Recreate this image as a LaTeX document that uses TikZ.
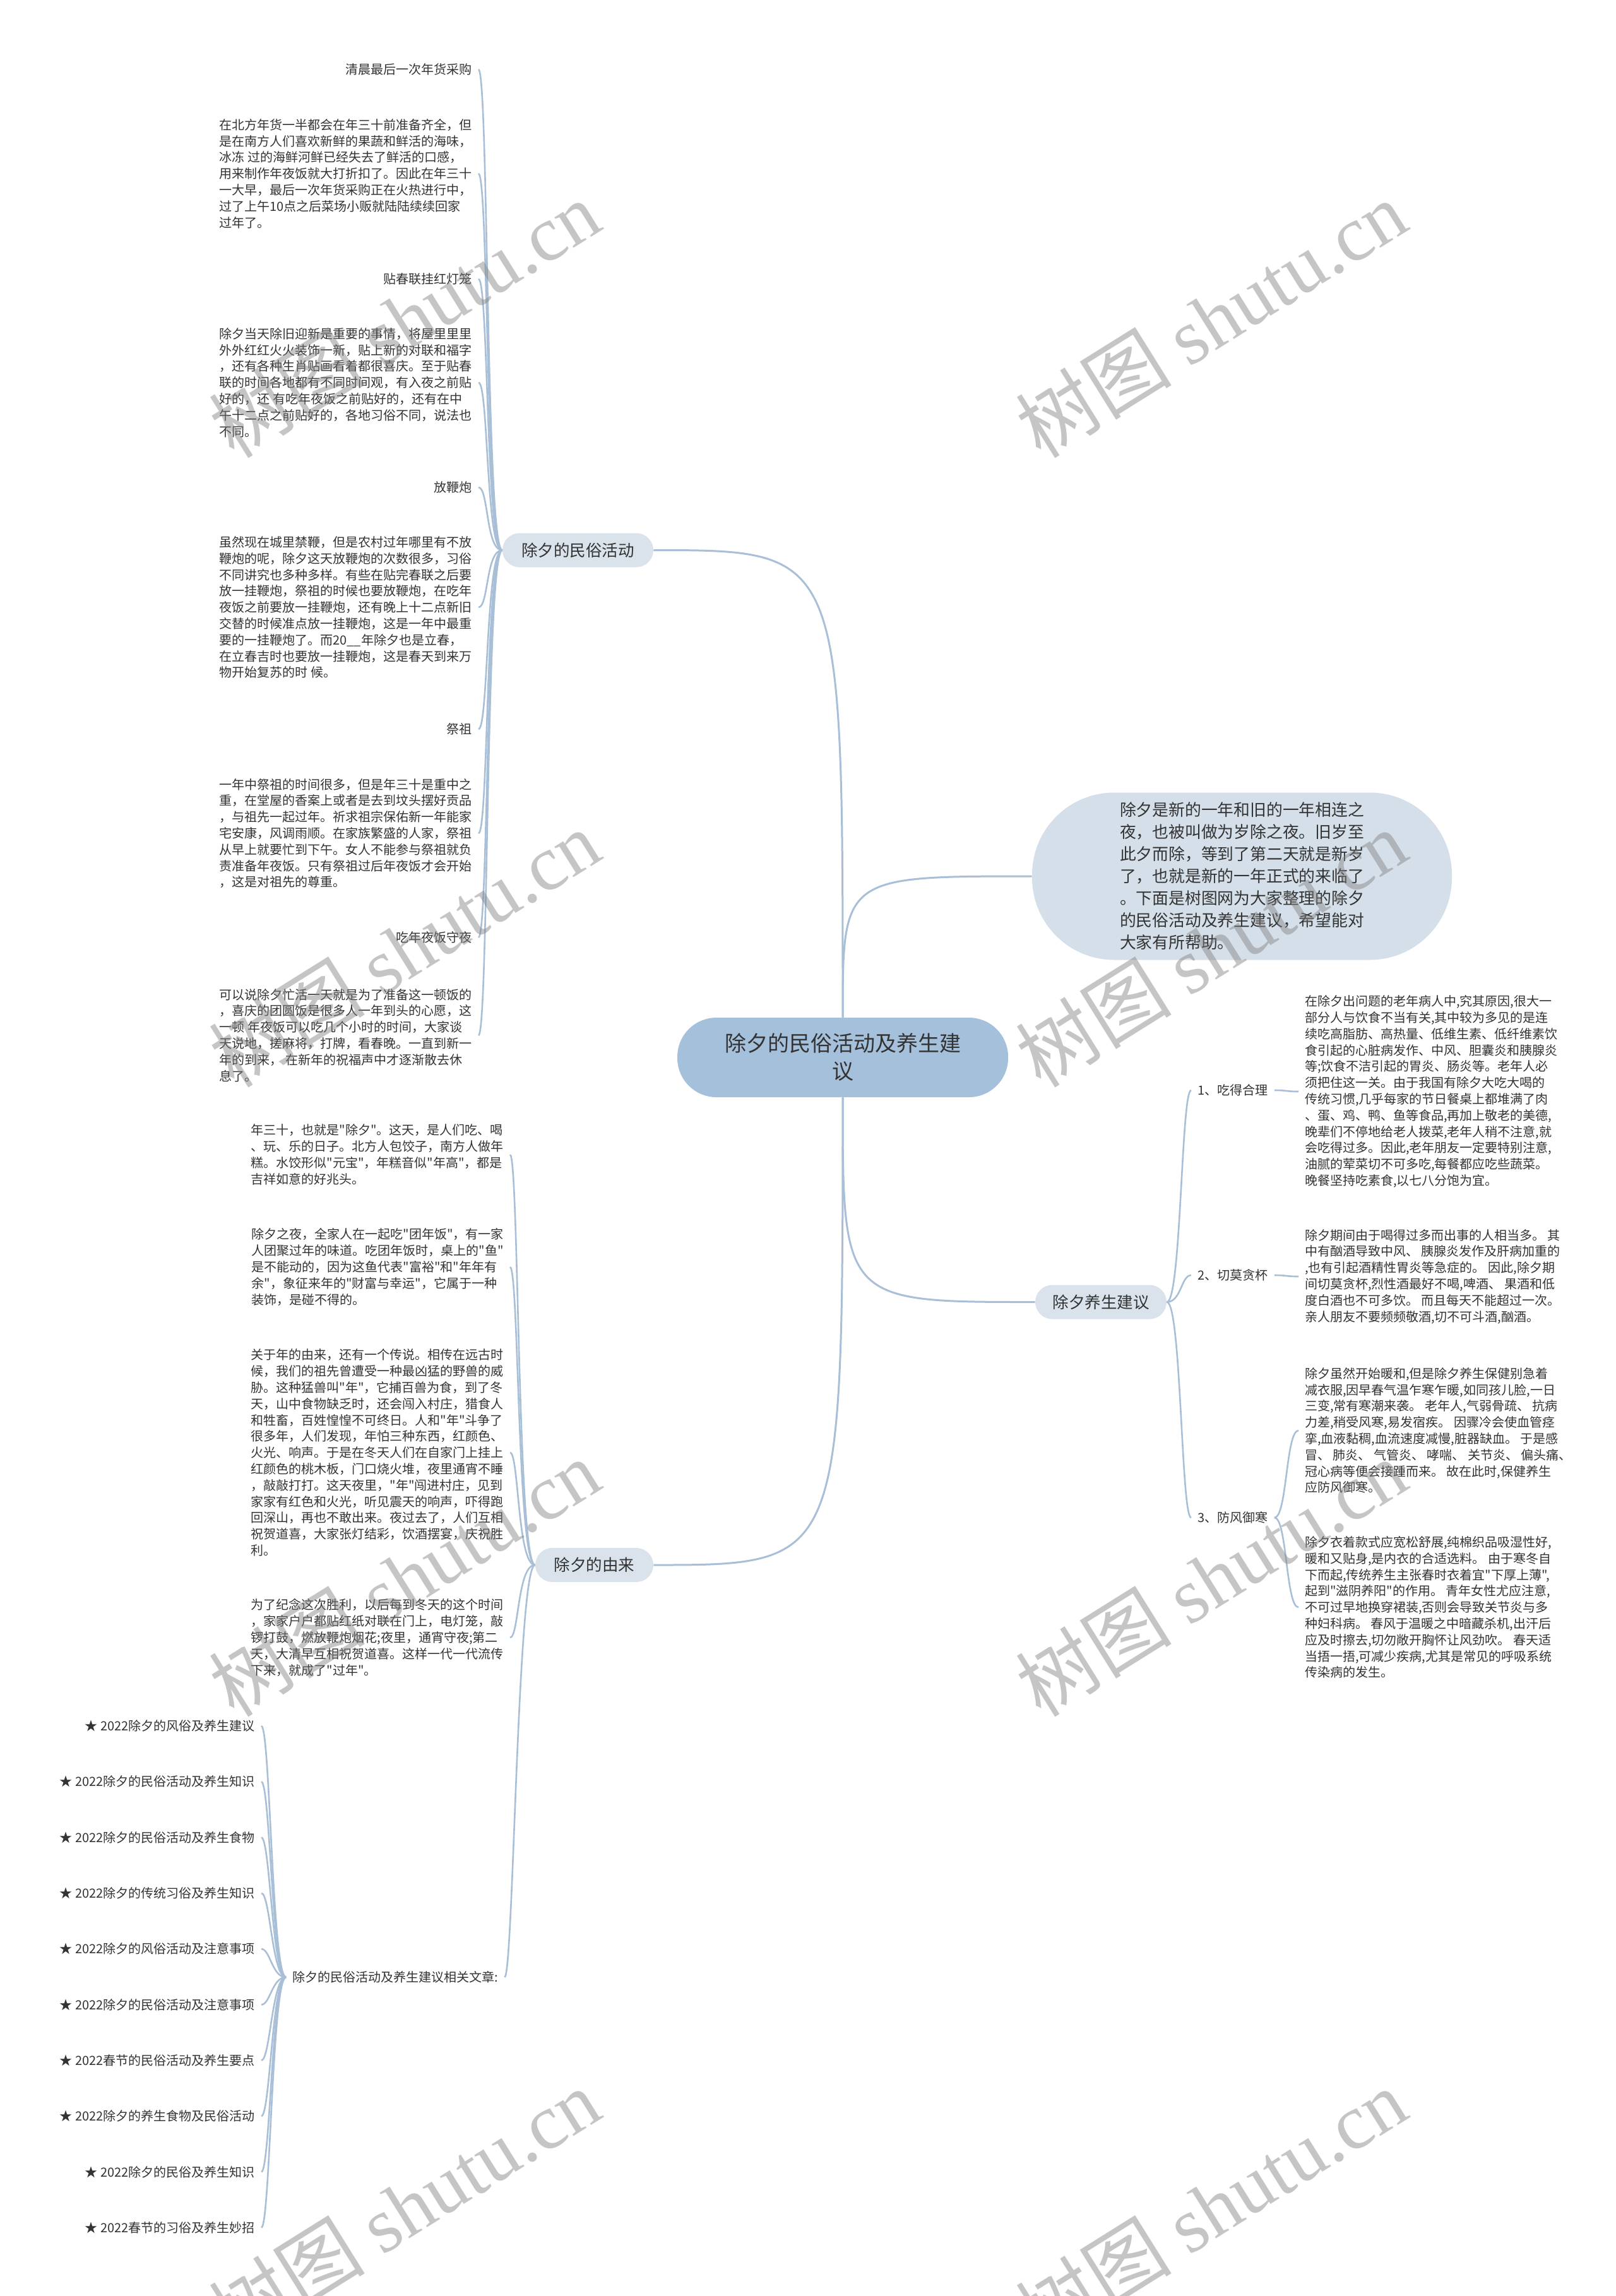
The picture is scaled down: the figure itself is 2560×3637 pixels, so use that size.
\documentclass[tikz,border=0pt]{standalone}
\usepackage{fontspec}
\setmainfont{Noto Sans CJK SC}[Ligatures=TeXOff]
\newfontfamily\wmlatin{Liberation Serif}
\newfontfamily\wmcjk{Noto Sans CJK SC}
\definecolor{linec}{HTML}{A8BFD7}
\definecolor{rootfill}{HTML}{A5C0DB}
\definecolor{secfill}{HTML}{DAE3EC}
\definecolor{bubblefill}{HTML}{D4DFE9}
\definecolor{txt}{HTML}{333333}
\definecolor{wmc}{HTML}{808080}
\tikzset{
  leaf/.style={font=\fontsize{10pt}{12.9pt}\selectfont, text=txt, inner xsep=5pt, inner ysep=2pt, align=left},
  secnode/.style={fill=secfill, rounded corners=13.5pt, minimum height=27pt, inner xsep=0pt, font=\fontsize{12.75pt}{15pt}\selectfont, text=txt},
  rootnode/.style={fill=rootfill, rounded corners=31pt, minimum width=262pt, minimum height=63pt, align=center, font=\fontsize{17pt}{22pt}\selectfont, text=txt},
  bubble/.style={fill=bubblefill, rounded corners=65pt, minimum width=332.5pt, minimum height=132.5pt, align=left, font=\fontsize{12.9pt}{17.5pt}\selectfont, text=txt},
  conn/.style={draw=linec, line width=1.3pt},
  mainconn/.style={draw=linec, line width=1.5pt},
  wmark/.style={text=wmc, text opacity=0.45, rotate=32, inner sep=0pt}
}
\begin{document}
\begin{tikzpicture}[x=0.5pt,y=-0.5pt]
\useasboundingbox (0,0) rectangle (2560,3637);
\fill[white] (0,0) rectangle (2560,3637);

% root and main branches
\node[rootnode] (root) at (1335,1675) {除夕的民俗活动及养生建\\议};
\node[secnode, minimum width=119.5pt] (s1) at (915.5,871.5) {除夕的民俗活动};
\node[secnode, minimum width=93.5pt] (s2) at (941.5,2479) {除夕的由来};
\node[secnode, minimum width=104pt] (s3) at (1744,2062.5) {除夕养生建议};
\node[bubble] (intro) at (1967.5,1388) {除夕是新的一年和旧的一年相连之\\夜，也被叫做为岁除之夜。旧岁至\\此夕而除，等到了第二天就是新岁\\了，也就是新的一年正式的来临了\\。下面是树图网为大家整理的除夕\\的民俗活动及养生建议，希望能对\\大家有所帮助。};

\draw[mainconn] (root.north) .. controls (root.north |- s1.east) .. (s1.east);
\draw[mainconn] (root.north) .. controls (root.north |- intro.west) .. (intro.west);
\draw[mainconn] (root.south) .. controls (root.south |- s2.east) .. (s2.east);
\draw[mainconn] (root.south) .. controls (root.south |- s3.west) .. (s3.west);

% branch 1: 民俗活动
\node[leaf, anchor=east] (a1) at (758,110) {清晨最后一次年货采购};
\node[leaf, anchor=east] (a2) at (758,275) {在北方年货一半都会在年三十前准备齐全，但\\是在南方人们喜欢新鲜的果蔬和鲜活的海味，\\冰冻 过的海鲜河鲜已经失去了鲜活的口感，\\用来制作年夜饭就大打折扣了。因此在年三十\\一大早，最后一次年货采购正在火热进行中，\\过了上午10点之后菜场小贩就陆陆续续回家\\过年了。};
\node[leaf, anchor=east] (a3) at (758,442) {贴春联挂红灯笼};
\node[leaf, anchor=east] (a4) at (758,606) {除夕当天除旧迎新是重要的事情，将屋里里里\\外外红红火火装饰一新，贴上新的对联和福字\\，还有各种生肖贴画看着都很喜庆。至于贴春\\联的时间各地都有不同时间观，有入夜之前贴\\好的，还 有吃年夜饭之前贴好的，还有在中\\午十二点之前贴好的，各地习俗不同，说法也\\不同。};
\node[leaf, anchor=east] (a5) at (758,772) {放鞭炮};
\node[leaf, anchor=east] (a6) at (758,962) {虽然现在城里禁鞭，但是农村过年哪里有不放\\鞭炮的呢，除夕这天放鞭炮的次数很多，习俗\\不同讲究也多种多样。有些在贴完春联之后要\\放一挂鞭炮，祭祖的时候也要放鞭炮，在吃年\\夜饭之前要放一挂鞭炮，还有晚上十二点新旧\\交替的时候准点放一挂鞭炮，这是一年中最重\\要的一挂鞭炮了。而20\_\_年除夕也是立春，\\在立春吉时也要放一挂鞭炮，这是春天到来万\\物开始复苏的时 候。};
\node[leaf, anchor=east] (a7) at (758,1155) {祭祖};
\node[leaf, anchor=east] (a8) at (758,1320) {一年中祭祖的时间很多，但是年三十是重中之\\重，在堂屋的香案上或者是去到坟头摆好贡品\\，与祖先一起过年。祈求祖宗保佑新一年能家\\宅安康，风调雨顺。在家族繁盛的人家，祭祖\\从早上就要忙到下午。女人不能参与祭祖就负\\责准备年夜饭。只有祭祖过后年夜饭才会开始\\，这是对祖先的尊重。};
\node[leaf, anchor=east] (a9) at (758,1485) {吃年夜饭守夜};
\node[leaf, anchor=east] (a10) at (758,1640) {可以说除夕忙活一天就是为了准备这一顿饭的\\，喜庆的团圆饭是很多人一年到头的心愿，这\\一顿 年夜饭可以吃几个小时的时间，大家谈\\天说地，搓麻将，打牌，看春晚。一直到新一\\年的到来， 在新年的祝福声中才逐渐散去休\\息了。};
\foreach \n in {a1,a2,a3,a4,a5,a6,a7,a8,a9,a10}
  \draw[conn] (s1.west) .. controls +(-26,0) and +(16,0) .. (\n.east);

% branch 2: 由来
\node[leaf, anchor=east] (b1) at (808,1829) {年三十，也就是"除夕"。这天，是人们吃、喝\\、玩、乐的日子。北方人包饺子，南方人做年\\糕。水饺形似"元宝"，年糕音似"年高"，都是\\吉祥如意的好兆头。};
\node[leaf, anchor=east] (b2) at (808,2007) {除夕之夜，全家人在一起吃"团年饭"，有一家\\人团聚过年的味道。吃团年饭时，桌上的"鱼"\\是不能动的，因为这鱼代表"富裕"和"年年有\\余"，象征来年的"财富与幸运"，它属于一种\\装饰，是碰不得的。};
\node[leaf, anchor=east] (b3) at (808,2301) {关于年的由来，还有一个传说。相传在远古时\\候，我们的祖先曾遭受一种最凶猛的野兽的威\\胁。这种猛兽叫"年"，它捕百兽为食，到了冬\\天，山中食物缺乏时，还会闯入村庄，猎食人\\和牲畜，百姓惶惶不可终日。人和"年"斗争了\\很多年，人们发现，年怕三种东西，红颜色、\\火光、响声。于是在冬天人们在自家门上挂上\\红颜色的桃木板，门口烧火堆，夜里通宵不睡\\，敲敲打打。这天夜里，"年"闯进村庄，见到\\家家有红色和火光，听见震天的响声，吓得跑\\回深山，再也不敢出来。夜过去了，人们互相\\祝贺道喜，大家张灯结彩，饮酒摆宴，庆祝胜\\利。};
\node[leaf, anchor=east] (b4) at (808,2594) {为了纪念这次胜利，以后每到冬天的这个时间\\，家家户户都贴红纸对联在门上，电灯笼，敲\\锣打鼓，燃放鞭炮烟花;夜里，通宵守夜;第二\\天，大清早互相祝贺道喜。这样一代一代流传\\下来，就成了"过年"。};
\node[leaf, anchor=west] (b5) at (453,3132) {除夕的民俗活动及养生建议相关文章:};
\foreach \n in {b1,b2,b3,b4,b5}
  \draw[conn] (s2.west) .. controls +(-28,0) and +(14,0) .. (\n.east);

% related articles
\foreach \t [count=\i from 0] in {★ 2022除夕的风俗及养生建议,★ 2022除夕的民俗活动及养生知识,★ 2022除夕的民俗活动及养生食物,★ 2022除夕的传统习俗及养生知识,★ 2022除夕的风俗活动及注意事项,★ 2022除夕的民俗活动及注意事项,★ 2022春节的民俗活动及养生要点,★ 2022除夕的养生食物及民俗活动,★ 2022除夕的民俗及养生知识,★ 2022春节的习俗及养生妙招}{
  \node[leaf, anchor=east] (c\i) at (414,2734+88.3*\i) {\t};
  \draw[conn] (b5.west) .. controls +(-22,0) and +(14,0) .. (c\i.east);
}

% branch 3: 养生建议
\node[leaf, anchor=west] (d1) at (1887,1727) {1、吃得合理};
\node[leaf, anchor=west] (d2) at (1887,2020) {2、切莫贪杯};
\node[leaf, anchor=west] (d3) at (1887,2404) {3、防风御寒};
\foreach \n in {d1,d2,d3}
  \draw[conn] (s3.east) .. controls +(23,0) and +(-16,0) .. (\n.west);

\node[leaf, anchor=west] (e1) at (2057,1729) {在除夕出问题的老年病人中,究其原因,很大一\\部分人与饮食不当有关,其中较为多见的是连\\续吃高脂肪、高热量、低维生素、低纤维素饮\\食引起的心脏病发作、中风、胆囊炎和胰腺炎\\等;饮食不洁引起的胃炎、肠炎等。老年人必\\须把住这一关。由于我国有除夕大吃大喝的\\传统习惯,几乎每家的节日餐桌上都堆满了肉\\、蛋、鸡、鸭、鱼等食品,再加上敬老的美德,\\晚辈们不停地给老人拨菜,老年人稍不注意,就\\会吃得过多。因此,老年朋友一定要特别注意,\\油腻的荤菜切不可多吃,每餐都应吃些蔬菜。\\晚餐坚持吃素食,以七八分饱为宜。};
\node[leaf, anchor=west] (e2) at (2057,2022) {除夕期间由于喝得过多而出事的人相当多。 其\\中有酗酒导致中风、 胰腺炎发作及肝病加重的\\,也有引起酒精性胃炎等急症的。 因此,除夕期\\间切莫贪杯,烈性酒最好不喝,啤酒、 果酒和低\\度白酒也不可多饮。 而且每天不能超过一次。\\亲人朋友不要频频敬酒,切不可斗酒,酗酒。};
\node[leaf, anchor=west] (e3) at (2057,2266) {除夕虽然开始暖和,但是除夕养生保健别急着\\减衣服,因早春气温乍寒乍暖,如同孩儿脸,一日\\三变,常有寒潮来袭。 老年人,气弱骨疏、 抗病\\力差,稍受风寒,易发宿疾。 因骤冷会使血管痉\\挛,血液黏稠,血流速度减慢,脏器缺血。 于是感\\冒、 肺炎、 气管炎、 哮喘、 关节炎、 偏头痛、\\冠心病等便会接踵而来。 故在此时,保健养生\\应防风御寒。};
\node[leaf, anchor=west] (e4) at (2057,2546) {除夕衣着款式应宽松舒展,纯棉织品吸湿性好,\\暖和又贴身,是内衣的合适选料。 由于寒冬自\\下而起,传统养生主张春时衣着宜"下厚上薄",\\起到"滋阴养阳"的作用。 青年女性尤应注意,\\不可过早地换穿裙装,否则会导致关节炎与多\\种妇科病。 春风于温暖之中暗藏杀机,出汗后\\应及时擦去,切勿敞开胸怀让风劲吹。 春天适\\当捂一捂,可减少疾病,尤其是常见的呼吸系统\\传染病的发生。};
\draw[conn] (d1.east) .. controls +(20,0) and +(-20,0) .. (e1.west);
\draw[conn] (d2.east) .. controls +(20,0) and +(-20,0) .. (e2.west);
\draw[conn] (d3.east) .. controls +(20,0) and +(-20,0) .. (e3.west);
\draw[conn] (d3.east) .. controls +(20,0) and +(-20,0) .. (e4.west);

% watermarks
\foreach \wx/\wy [count=\k] in {640/505,1918/505,640/1502,1918/1502,640/2499,1918/2499,640/3496,1918/3496}
  \node[wmark] (wm\k) at (\wx,\wy) {\fontsize{62pt}{62pt}\wmcjk 树图\ \wmlatin shutu.cn};
\end{tikzpicture}
\end{document}
